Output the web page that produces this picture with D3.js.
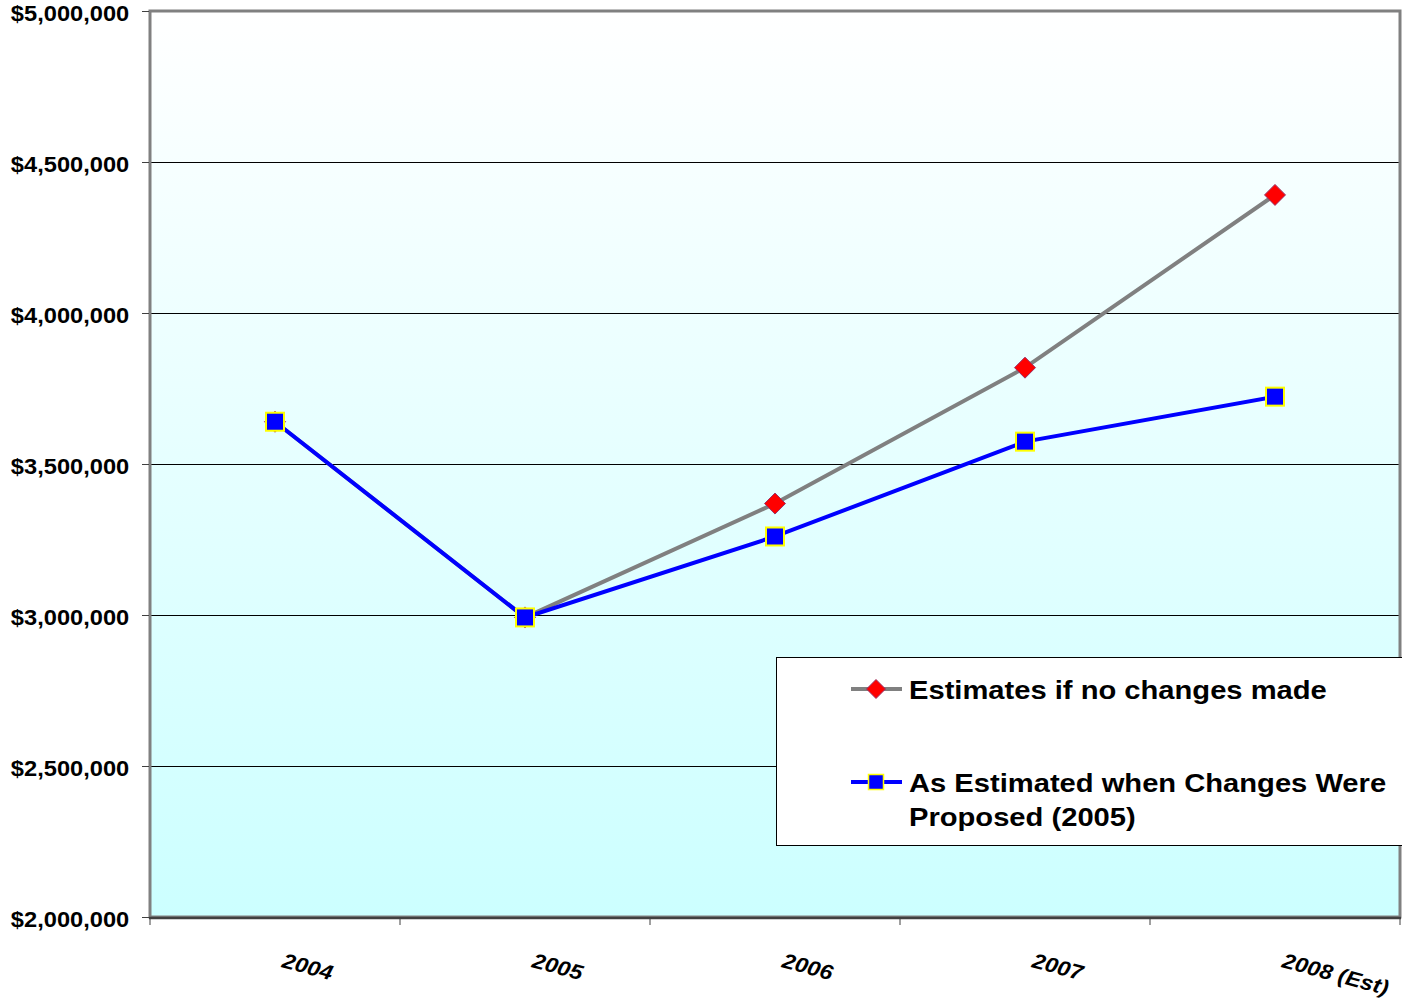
<!DOCTYPE html>
<html>
<head>
<meta charset="utf-8">
<script src="https://cdn.jsdelivr.net/npm/d3@7"></script>
<style>
  html, body { margin: 0; padding: 0; background: #ffffff; }
  svg { display: block; font-family: "Liberation Sans", Arial, sans-serif; }
</style>
</head>
<body>
<svg id="chart" width="1402" height="1001"></svg>
<script>
// Categories and series values
const years = ["2004", "2005", "2006", "2007", "2008 (Est)"];
const noChanges = [3640000, 2992000, 3369000, 3819000, 4391000];
const asEstimated = [3640000, 2992000, 3260000, 3574000, 3723000];
const yTicks = [2000000, 2500000, 3000000, 3500000, 4000000, 4500000, 5000000];
const seriesNames = ["Estimates if no changes made", "As Estimated when Changes Were|Proposed (2005)"];

const plot = { left: 150, right: 1400, top: 11, bottom: 917 };
const stretch = 1.1; // glyphs are drawn slightly widened

const svg = d3.select("#chart");

const x = d3.scaleBand().domain(years).range([plot.left, plot.right]).padding(0);
const y = d3.scaleLinear().domain([2000000, 5000000]).range([plot.bottom, plot.top]);
const cx = d => x(d) + x.bandwidth() / 2;

// Background gradient of the plot area
const defs = svg.append("defs");
const grad = defs.append("linearGradient").attr("id", "bg").attr("x1", 0).attr("y1", 0).attr("x2", 0).attr("y2", 1);
grad.append("stop").attr("offset", "0%").attr("stop-color", "#ffffff");
grad.append("stop").attr("offset", "100%").attr("stop-color", "#ccffff");

svg.append("rect")
  .attr("x", plot.left).attr("y", plot.top)
  .attr("width", plot.right - plot.left).attr("height", plot.bottom - plot.top)
  .attr("fill", "url(#bg)");

// Horizontal gridlines
svg.append("g").selectAll("line")
  .data(yTicks.filter(v => v > 2000000 && v < 5000000))
  .join("line")
  .attr("x1", plot.left).attr("x2", plot.right)
  .attr("y1", d => Math.round(y(d)) + 0.5).attr("y2", d => Math.round(y(d)) + 0.5)
  .attr("stroke", "#000").attr("stroke-width", 1);

// Plot frame
svg.append("rect")
  .attr("x", plot.left).attr("y", plot.top)
  .attr("width", plot.right - plot.left).attr("height", plot.bottom - plot.top)
  .attr("fill", "none").attr("stroke", "#808080").attr("stroke-width", 3);

// Y axis
const yAxis = svg.append("g")
  .attr("transform", `translate(${plot.left - 1},0)`)
  .call(d3.axisLeft(y).tickValues(yTicks).tickSize(7).tickPadding(11)
    .tickFormat(d => "$" + d3.format(",")(d)));
yAxis.select(".domain").remove();
yAxis.selectAll(".tick line").attr("stroke", "#404040");
yAxis.selectAll(".tick text")
  .attr("font-size", 21.5).attr("font-weight", "bold").attr("fill", "#000")
  .attr("dy", "0.42em")
  .attr("transform", `scale(${stretch},1)`);

// X axis baseline and category boundary ticks
svg.append("line")
  .attr("x1", plot.left - 1).attr("x2", plot.right + 1)
  .attr("y1", plot.bottom + 1).attr("y2", plot.bottom + 1)
  .attr("stroke", "#404040").attr("stroke-width", 2.5);
const edges = years.map(d => x(d)).concat([x(years[years.length - 1]) + x.bandwidth()]);
svg.append("g").selectAll("line").data(edges).join("line")
  .attr("x1", d => d).attr("x2", d => d)
  .attr("y1", plot.bottom + 1).attr("y2", plot.bottom + 8)
  .attr("stroke", "#404040").attr("stroke-width", 1);

// Rotated category labels
svg.append("g").selectAll("text").data(years).join("text")
  .attr("transform", d => `translate(${cx(d) + 6},${plot.bottom + 50}) rotate(15) scale(${stretch},1)`)
  .attr("font-size", 21).attr("font-weight", "bold").attr("font-style", "italic")
  .attr("fill", "#000")
  .text(d => d);

// Series lines and markers
const line = d3.line().x((d, i) => cx(years[i])).y(d => y(d));

function diamondPath(r) {
  return `M0,${-r}L${r},0L0,${r}L${-r},0Z`;
}

svg.append("path").datum(noChanges)
  .attr("d", line).attr("fill", "none")
  .attr("stroke", "#808080").attr("stroke-width", 4);

svg.append("g").selectAll("path").data(noChanges).join("path")
  .attr("transform", (d, i) => `translate(${cx(years[i])},${y(d)})`)
  .attr("d", diamondPath(10.5))
  .attr("fill", "#ff0000").attr("stroke", "#993366").attr("stroke-width", 1);

svg.append("path").datum(asEstimated)
  .attr("d", line).attr("fill", "none")
  .attr("stroke", "#0000ff").attr("stroke-width", 4);

svg.append("g").selectAll("rect").data(asEstimated).join("rect")
  .attr("x", (d, i) => cx(years[i]) - 9).attr("y", d => y(d) - 9)
  .attr("width", 18).attr("height", 18)
  .attr("fill", "#0000ff").attr("stroke", "#ffff00").attr("stroke-width", 2);

// Legend
const lg = svg.append("g");
lg.append("rect")
  .attr("x", 776.5).attr("y", 657.5).attr("width", 640).attr("height", 188)
  .attr("fill", "#ffffff").attr("stroke", "#000").attr("stroke-width", 1);

const rows = [
  { name: seriesNames[0], y: 689, color: "#808080" },
  { name: seriesNames[1], y: 782, color: "#0000ff" }
];
rows.forEach((r, i) => {
  lg.append("line").attr("x1", 851).attr("x2", 902).attr("y1", r.y).attr("y2", r.y)
    .attr("stroke", r.color).attr("stroke-width", 4);
  if (i === 0) {
    lg.append("path").attr("transform", `translate(876,${r.y})`)
      .attr("d", diamondPath(9.5))
      .attr("fill", "#ff0000").attr("stroke", "#993366").attr("stroke-width", 1);
  } else {
    lg.append("rect").attr("x", 876 - 7.5).attr("y", r.y - 7.5)
      .attr("width", 15).attr("height", 15)
      .attr("fill", "#0000ff").attr("stroke", "#ffff00").attr("stroke-width", 1.5);
  }
  r.name.split("|").forEach((t, j) => {
    lg.append("text")
      .attr("transform", `translate(909,${r.y + 9.5 + j * 34}) scale(${stretch},1)`)
      .attr("font-size", 26.5).attr("font-weight", "bold").attr("fill", "#000")
      .text(t);
  });
});
</script>
</body>
</html>
